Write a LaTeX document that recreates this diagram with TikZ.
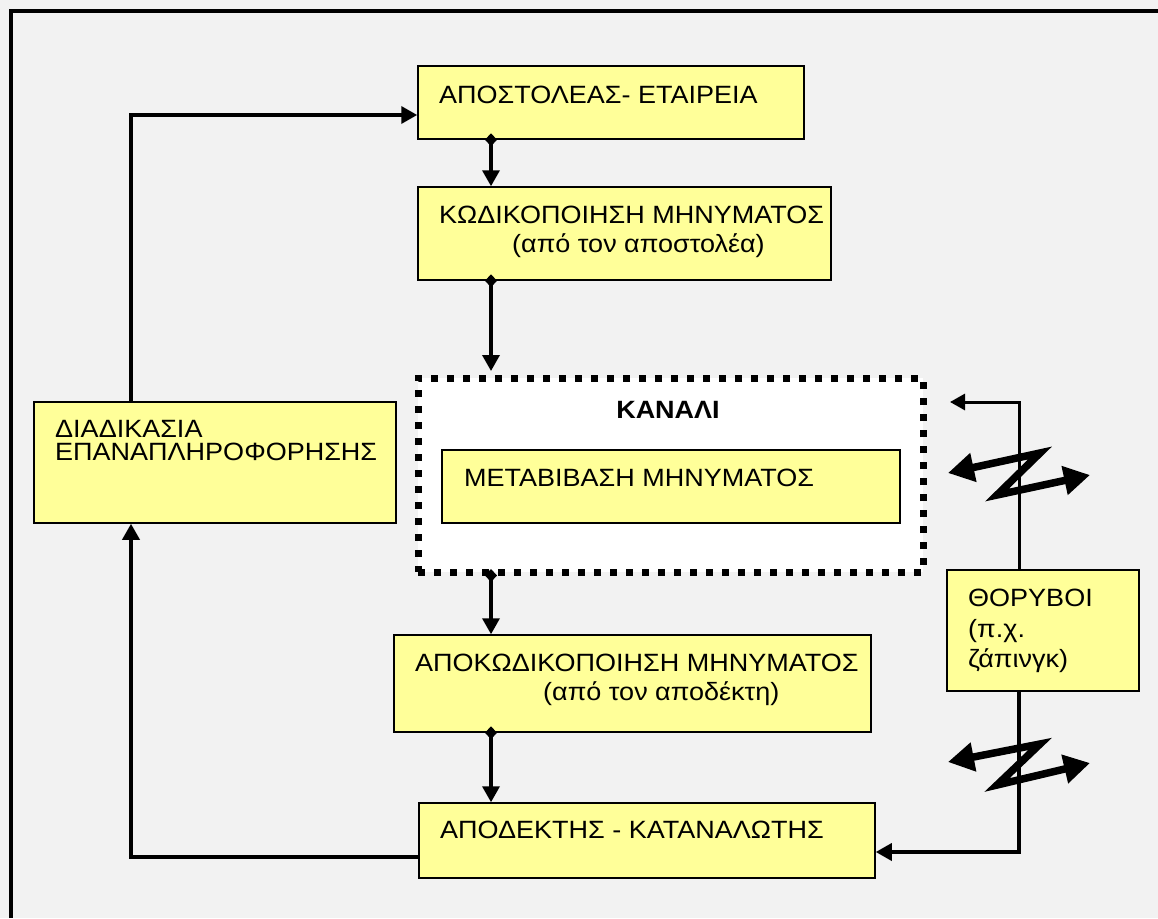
\documentclass[tikz,border=0pt]{standalone}
\usepackage{fontspec}
\setmainfont{Liberation Sans}[FakeStretch=1.08]
\usetikzlibrary{arrows.meta,fit}
\definecolor{bg}{HTML}{F2F2F2}
\definecolor{boxfill}{HTML}{FFFF99}
\begin{document}
\begin{tikzpicture}[x=1pt,y=-1pt,
  box/.style={draw=black,line width=1.5pt,fill=boxfill,inner sep=0pt},
  chanbox/.style={draw=black,fill=white,inner sep=0pt,line width=7pt,dash pattern=on 7pt off 9pt},
  txt/.style={inner sep=0pt,anchor=base west,font=\fontsize{25}{29}\selectfont},
  conn/.style={line width=3.5pt,-{Triangle[length=16pt,width=17pt]}},
  dconn/.style={line width=3.5pt,{Diamond[length=13pt,width=12pt]}-{Triangle[length=16pt,width=17pt]},shorten <=-6.5pt},
  bolt/.style={line width=7.5pt,line join=miter,{Triangle[length=26pt,width=28pt]}-{Triangle[length=26pt,width=28pt]}}]
  % page and frame
  \fill[bg] (0,0) rectangle (1158,918);
  \useasboundingbox (0,0) rectangle (1158,918);
  \draw[line width=4pt] (11,918) -- (11,11) -- (1158,11);

  % boxes of the main chain
  \node[box,fit={(418,66)(804,139)}] (src) {};
  \node[txt] (srct) at (439,103) {ΑΠΟΣΤΟΛΕΑΣ- ΕΤΑΙΡΕΙΑ};

  \node[box,fit={(418,187)(831,280)}] (enc) {};
  \node[txt] (enct1) at (439,223) {ΚΩΔΙΚΟΠΟΙΗΣΗ ΜΗΝΥΜΑΤΟΣ};
  \node[txt] (enct2) at (512,252) {(από τον αποστολέα)};

  \node[chanbox,fit={(418,378)(923,572)}] (chan) {};
  \node[inner sep=0pt,anchor=base,font=\fontsize{25}{29}\selectfont\bfseries] (chant) at (668,418) {ΚΑΝΑΛΙ};
  \node[box,fit={(442,450)(900,523)}] (trans) {};
  \node[txt] (transt) at (464,486) {ΜΕΤΑΒΙΒΑΣΗ ΜΗΝΥΜΑΤΟΣ};

  \node[box,fit={(394,635)(871,732)}] (dec) {};
  \node[txt] (dect1) at (415,671) {ΑΠΟΚΩΔΙΚΟΠΟΙΗΣΗ ΜΗΝΥΜΑΤΟΣ};
  \node[txt] (dect2) at (543,700) {(από τον αποδέκτη)};

  \node[box,fit={(419,803)(875,878)}] (recv) {};
  \node[txt] (recvt) at (440,838) {ΑΠΟΔΕΚΤΗΣ - ΚΑΤΑΝΑΛΩΤΗΣ};

  % feedback box
  \node[box,fit={(34,402)(396,523)}] (fb) {};
  \node[txt] (fbt1) at (55,437) {ΔΙΑΔΙΚΑΣΙΑ};
  \node[txt] (fbt2) at (55,460) {ΕΠΑΝΑΠΛΗΡΟΦΟΡΗΣΗΣ};

  % noise box
  \node[box,fit={(947,570)(1139,691)}] (noise) {};
  \node[txt] (nt1) at (968,606) {ΘΟΡΥΒΟΙ};
  \node[txt] (nt2) at (968,637) {(π.χ.};
  \node[txt] (nt3) at (968,667) {ζάπινγκ)};

  % chain connectors
  \coordinate (axis) at (491,0);
  \draw[dconn] (axis |- src.south) -- (axis |- enc.north);
  \draw[dconn,shorten >=3.5pt] (axis |- enc.south) -- (axis |- chan.north);
  \draw[dconn] (axis |- chan.south) -- (axis |- dec.north);
  \draw[dconn] (axis |- dec.south) -- (axis |- recv.north);

  % feedback loop
  \coordinate (fblow) at (131,857);
  \coordinate (fbtop) at (131,115);
  \draw[conn] (fblow -| recv.west) -- (fblow) -- (fblow |- fb.south);
  \draw[conn] (fbtop |- fb.north) -- (fbtop) -- (fbtop -| src.west);

  % noise lines
  \coordinate (ntop) at (1019,402);
  \coordinate (ntip) at (950,402);
  \coordinate (nlow) at (1019,852);
  \draw[line width=3pt,-{Triangle[length=15pt,width=16pt]}] (ntop |- noise.north) -- (ntop) -- (ntip);
  \draw[conn] (nlow |- noise.south) -- (nlow) -- (nlow -| recv.east);

  % interference bolts
  \coordinate (ba1) at (948,473);
  \coordinate (ba2) at (1040,453);
  \coordinate (ba3) at (997,495);
  \coordinate (ba4) at (1090,475);
  \draw[bolt] (ba1) -- (ba2) -- (ba3) -- (ba4);
  \coordinate (bb1) at (948,762);
  \coordinate (bb2) at (1040,744);
  \coordinate (bb3) at (997,785);
  \coordinate (bb4) at (1090,763);
  \draw[bolt] (bb1) -- (bb2) -- (bb3) -- (bb4);
\end{tikzpicture}
\end{document}
